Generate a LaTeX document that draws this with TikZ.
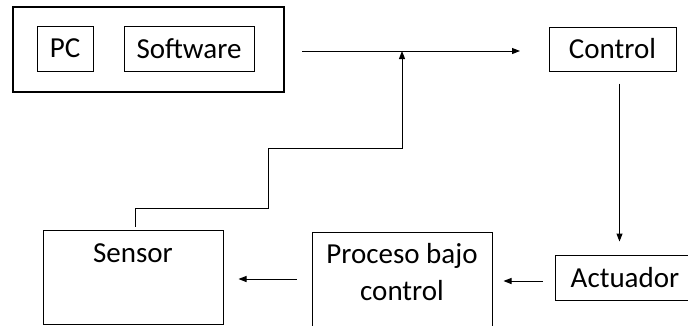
\documentclass[tikz,border=0pt]{standalone}
\usepackage{fontspec}
\setmainfont{Carlito}
\usetikzlibrary{arrows.meta,calc}
\begin{document}
\begin{tikzpicture}[x=1pt,y=-1pt,
  box/.style={draw=black, line width=1pt, rectangle, inner sep=0pt, fill=none},
  txt/.style={inner sep=0pt, font=\fontsize{29}{35}\selectfont},
  arr/.style={draw=black, line width=1pt, -{Triangle[length=8pt,width=6pt]}},
  ln/.style={draw=black, line width=1pt}]
\useasboundingbox (0,0) rectangle (688,325);
\clip (0,0) rectangle (688,325);
% nodes
\node[box, line width=2.2pt, minimum width=271pt, minimum height=85pt] (pcsys) at (148.5,49.5) {};
\node[box, txt, minimum width=56pt, minimum height=45pt] (pc) at (65,48.5) {PC};
\node[box, txt, minimum width=130pt, minimum height=45pt] (sw) at (189,48.5) {Software};
\node[box, txt, minimum width=127pt, minimum height=44pt] (ctrl) at (612.5,49) {Control};
\node[box, txt, minimum width=140pt, minimum height=45pt] (act) at (625,277.5) {Actuador};
\node[box, minimum width=180pt, minimum height=100pt] (proc) at (402,282) {};
\node[box, minimum width=180pt, minimum height=94pt] (sens) at (133,277) {};
\node[txt, anchor=base] (senst) at (133,262) {Sensor};
\node[txt, anchor=base] (proct1) at (402,263) {Proceso bajo};
\node[txt, anchor=base] (proct2) at (402,300) {control};
% coordinates
\coordinate (junc) at (402,51);
\coordinate (fwstart) at (302,51);
\coordinate (fwend) at (520,51);
\coordinate (dx) at (619.5,0);
\coordinate (rowA) at (0,281);
\coordinate (rowB) at (0,279);
% connectors
\draw[arr] (fwstart) -- (fwend);
\draw[arr, shorten <=12pt, shorten >=13pt] (ctrl.south -| dx) -- (act.north -| dx);
\draw[arr, shorten <=12pt, shorten >=11pt] (act.west |- rowA) -- (proc.east |- rowA);
\draw[arr, shorten <=15pt, shorten >=15pt] (proc.west |- rowB) -- (sens.east |- rowB);
\draw[arr] ($(sens.north)+(2,-3)$) -- (135,208) -- (268,208) -- (268,148) -- (402,148) -- (junc);
\end{tikzpicture}
\end{document}
